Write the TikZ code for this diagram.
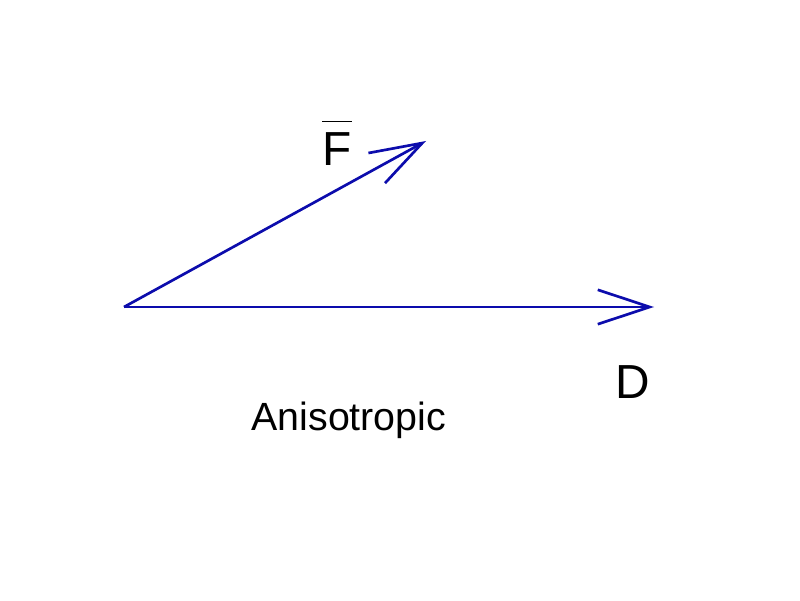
\documentclass[tikz,border=0pt]{standalone}
\usepackage{fontspec}
\setmainfont{Liberation Sans}
\usetikzlibrary{arrows.meta, positioning, calc}
\definecolor{vecblue}{RGB}{12,12,172}

\begin{document}
\begin{tikzpicture}[
        vector/.style={
            draw=vecblue,
            line width=1.9pt,
            -{Straight Barb[length=1.3cm, width=0.86cm, line width=1.9pt]}
        },
        etiqueta/.style={
            anchor=base,
            inner sep=0pt,
            font=\fontsize{34}{40}\selectfont
        }
    ]
        \useasboundingbox (0,0) rectangle (20,15);
        \coordinate (origen) at (3.1,7.325);
        \coordinate (puntaD) at (16.35,7.325);
        \coordinate (puntaF) at (10.65,11.475);
        \draw[vector] (origen) -- (puntaD);
        \draw[vector] (origen) -- (puntaF);
        \node[etiqueta] (etiqF) at (8.425,10.85)
            {$\overline{\raisebox{0pt}[\dimexpr\height+7pt\relax]{F}}$};
        \node[etiqueta] (etiqD) at (15.825,5.05) {D};
        \node[etiqueta, font=\fontsize{28}{34}\selectfont] (tipo) at (8.72,4.25) {Anisotropic};
    \end{tikzpicture}
\end{document}
